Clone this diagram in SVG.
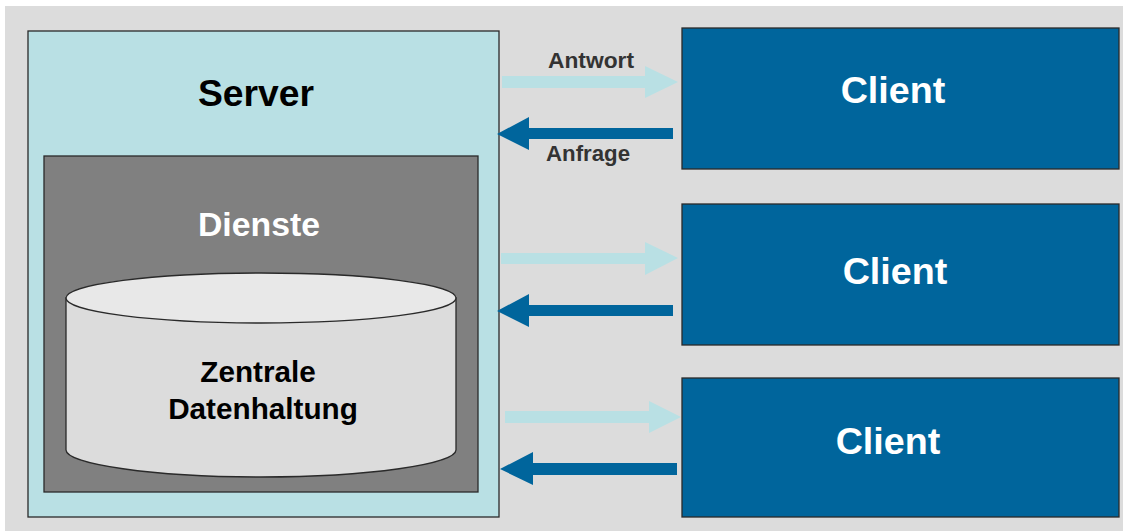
<svg xmlns="http://www.w3.org/2000/svg" width="1123" height="531" viewBox="0 0 1123 531">
<defs>
<style>
text{font-family:"Liberation Sans",Arial,sans-serif;font-weight:bold;text-anchor:middle}
.box{stroke:#2a2a2a;stroke-width:1.3}
.client{fill:#00659c}
.ct{fill:#fff;font-size:37.7px}
.lab{fill:#333;font-size:22px}
.l{fill:#b9e0e4}
.d{fill:#00659c}
</style>
</defs>
<rect width="1123" height="531" fill="#fff"/>
<rect x="5" y="6" width="1118" height="525" fill="#dcdcdc"/>
<g id="server">
<rect class="box" x="28" y="31" width="471" height="486" fill="#b9e0e4"/>
<text x="256" y="106" font-size="37.3" fill="#000">Server</text>
</g>
<g id="dienste">
<rect class="box" x="44" y="156" width="434" height="336" fill="#808080"/>
<text x="259" y="236" font-size="33.8" fill="#fff">Dienste</text>
</g>
<g id="datenhaltung">
<path class="box" d="M66 298V450C66 464 153 477 261 477S456 464 456 450V298Z" fill="#dcdcdc"/>
<ellipse class="box" cx="261" cy="298" rx="195" ry="25" fill="#e8e8e8"/>
<text x="258" y="382" font-size="29.7" fill="#000">Zentrale</text>
<text x="263" y="419" font-size="29.7" fill="#000">Datenhaltung</text>
</g>
<g id="client1"><rect class="box client" x="682" y="28" width="437" height="141"/><text class="ct" x="893" y="103">Client</text></g>
<g id="client2"><rect class="box client" x="682" y="204" width="437" height="141"/><text class="ct" x="895" y="284">Client</text></g>
<g id="client3"><rect class="box client" x="682" y="378" width="437" height="139"/><text class="ct" x="888" y="454">Client</text></g>
<g id="connectors">
<polygon class="l" points="502,76 645,76 645,66 678,82 645,98 645,88 502,88"/>
<polygon class="d" points="673,128 529,128 529,117 497,134 529,150 529,139 673,139"/>
<polygon class="l" points="501,253 645,253 645,242 678,258 645,275 645,264 501,264"/>
<polygon class="d" points="673,305 529,305 529,294 497,311 529,327 529,316 673,316"/>
<polygon class="l" points="505,411 649,411 649,401 681,417 649,433 649,423 505,423"/>
<polygon class="d" points="677,463 533,463 533,452 500,469 533,485 533,475 677,475"/>
</g>
<g id="labels">
<text class="lab" x="591" y="68" textLength="86" lengthAdjust="spacingAndGlyphs">Antwort</text>
<text class="lab" x="588" y="161" textLength="84" lengthAdjust="spacingAndGlyphs">Anfrage</text>
</g>
</svg>
